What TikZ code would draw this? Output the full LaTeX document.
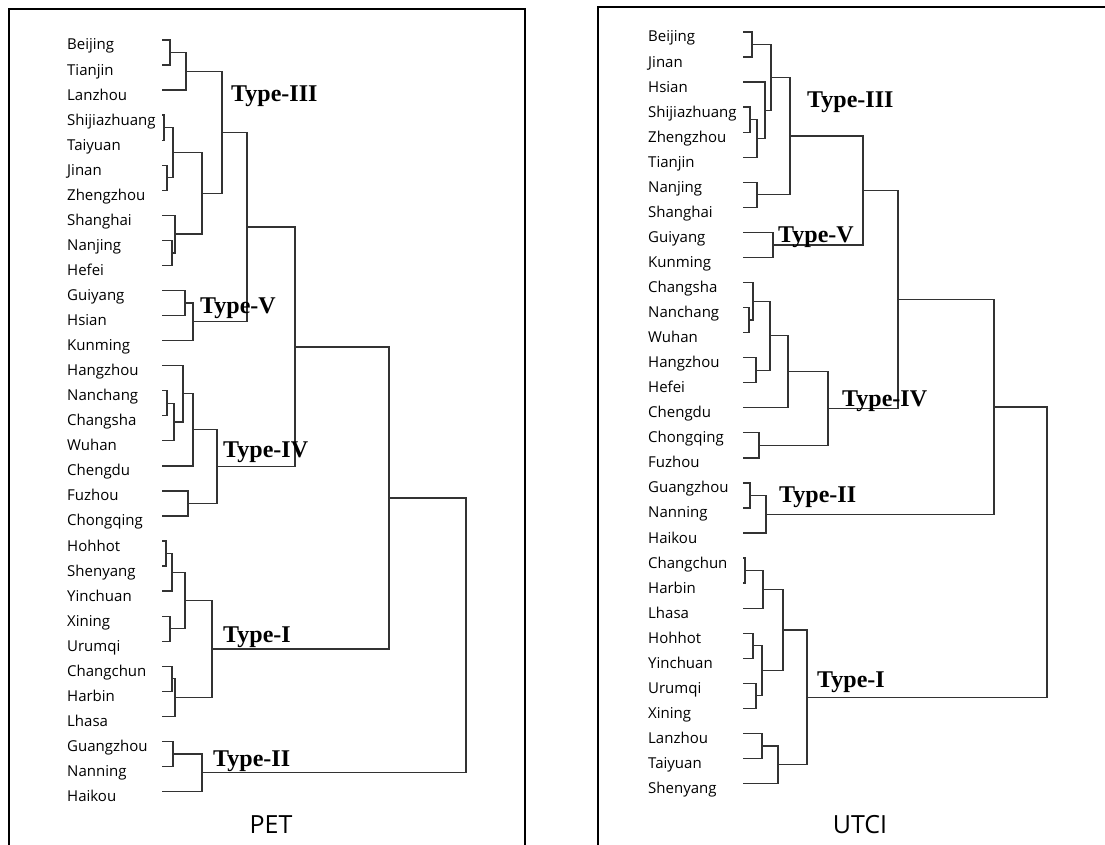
\documentclass[tikz,border=0pt]{standalone}
\usepackage{fontspec}
\newfontfamily\villefont{Open Sans}
\newfontfamily\typefont{Liberation Serif}

\tikzset{
  ville/.style={anchor=base west, inner sep=0pt, text=black,
    font=\villefont\fontsize{15}{18}\selectfont},
  groupe/.style={anchor=base west, inner sep=0pt,
    font=\typefont\bfseries\fontsize{24}{28}\selectfont},
  titre/.style={anchor=base, inner sep=0pt,
    font=\villefont\fontsize{25}{30}\selectfont},
  branche/.style={draw=black!80, line width=1.3pt},
  cadre/.style={draw=black, line width=2.4pt},
}

% relie deux branches a la hauteur x : nom, x, branche 1, branche 2
\newcommand\relie[4]{%
  \path (#3) -- (#4) coordinate[pos=.5] (#1m);
  \coordinate (#1) at (#2,0 |- #1m);
  \draw[branche] (#3) -| (#1) |- (#4);
}

\begin{document}
\begin{tikzpicture}[x=1pt, y=-1pt]
    \useasboundingbox (0,0) rectangle (1105,845);

    % Les cadres
    \draw[cadre] (9,845) -- (9,9) -- (525,9) -- (525,845);
    \draw[cadre] (598,845) -- (598,7) -- (1105,7);

    % Les villes, PET
    \foreach \name [count=\i from 0] in {Beijing,Tianjin,Lanzhou,Shijiazhuang,Taiyuan,Jinan,Zhengzhou,Shanghai,Nanjing,Hefei,Guiyang,Hsian,Kunming,Hangzhou,Nanchang,Changsha,Wuhan,Chengdu,Fuzhou,Chongqing,Hohhot,Shenyang,Yinchuan,Xining,Urumqi,Changchun,Harbin,Lhasa,Guangzhou,Nanning,Haikou} {
        \node[ville] (pt\name) at (67, {50+25.05*\i}) {\name};
        \coordinate (p\name) at (162, {40+25.05*\i});
    }

    % Les villes, UTCI
    \foreach \name [count=\i from 0] in {Beijing,Jinan,Hsian,Shijiazhuang,Zhengzhou,Tianjin,Nanjing,Shanghai,Guiyang,Kunming,Changsha,Nanchang,Wuhan,Hangzhou,Hefei,Chengdu,Chongqing,Fuzhou,Guangzhou,Nanning,Haikou,Changchun,Harbin,Lhasa,Hohhot,Yinchuan,Urumqi,Xining,Lanzhou,Taiyuan,Shenyang} {
        \node[ville] (ut\name) at (648, {42+25.05*\i}) {\name};
        \coordinate (u\name) at (743, {32+25.05*\i});
    }

    % Arbre PET
    \relie{pBT}{170}{pBeijing}{pTianjin}
    \relie{pBTL}{186}{pBT}{pLanzhou}
    \relie{pST}{164}{pShijiazhuang}{pTaiyuan}
    \relie{pJZ}{167}{pJinan}{pZhengzhou}
    \relie{pSTJZ}{173}{pST}{pJZ}
    \relie{pNH}{172}{pNanjing}{pHefei}
    \relie{pSNH}{175}{pShanghai}{pNH}
    \relie{pEst}{202}{pSTJZ}{pSNH}
    \relie{pIII}{222}{pBTL}{pEst}
    \relie{pGH}{185}{pGuiyang}{pHsian}
    \relie{pV}{193}{pGH}{pKunming}
    \relie{pIIIV}{247}{pIII}{pV}
    \relie{pNC}{167}{pNanchang}{pChangsha}
    \relie{pNCW}{174}{pNC}{pWuhan}
    \relie{pHNCW}{183}{pHangzhou}{pNCW}
    \relie{pHC}{193}{pHNCW}{pChengdu}
    \relie{pFC}{188}{pFuzhou}{pChongqing}
    \relie{pIV}{217}{pHC}{pFC}
    \relie{pA}{295}{pIIIV}{pIV}
    \relie{pHS}{166}{pHohhot}{pShenyang}
    \relie{pHSY}{172}{pHS}{pYinchuan}
    \relie{pXU}{170}{pXining}{pUrumqi}
    \relie{pNord}{185}{pHSY}{pXU}
    \relie{pCH}{172}{pChangchun}{pHarbin}
    \relie{pCHL}{175}{pCH}{pLhasa}
    \relie{pI}{212}{pNord}{pCHL}
    \relie{pB}{389}{pA}{pI}
    \relie{pGN}{173}{pGuangzhou}{pNanning}
    \relie{pII}{202}{pGN}{pHaikou}
    \relie{pRacine}{466}{pB}{pII}

    % Arbre UTCI
    \relie{uBJ}{752}{uBeijing}{uJinan}
    \relie{uSZ}{750}{uShijiazhuang}{uZhengzhou}
    \relie{uSZT}{757}{uSZ}{uTianjin}
    \relie{uHSZT}{765}{uHsian}{uSZT}
    \relie{uNord}{771}{uBJ}{uHSZT}
    \relie{uNS}{757}{uNanjing}{uShanghai}
    \relie{uIII}{790}{uNord}{uNS}
    \relie{uV}{773}{uGuiyang}{uKunming}
    \relie{uIIIV}{863}{uIII}{uV}
    \relie{uNW}{749}{uNanchang}{uWuhan}
    \relie{uCNW}{753}{uChangsha}{uNW}
    \relie{uHH}{756}{uHangzhou}{uHefei}
    \relie{uCentre}{770}{uCNW}{uHH}
    \relie{uCC}{788}{uCentre}{uChengdu}
    \relie{uCF}{759}{uChongqing}{uFuzhou}
    \relie{uIV}{828}{uCC}{uCF}
    \relie{uA}{898}{uIIIV}{uIV}
    \relie{uGN}{750}{uGuangzhou}{uNanning}
    \relie{uII}{766}{uGN}{uHaikou}
    \relie{uB}{994}{uA}{uII}
    \relie{uCH}{745}{uChangchun}{uHarbin}
    \relie{uCHL}{763}{uCH}{uLhasa}
    \relie{uHY}{753}{uHohhot}{uYinchuan}
    \relie{uUX}{756}{uUrumqi}{uXining}
    \relie{uOuest}{762}{uHY}{uUX}
    \relie{uCHLO}{783}{uCHL}{uOuest}
    \relie{uLT}{762}{uLanzhou}{uTaiyuan}
    \relie{uLTS}{778}{uLT}{uShenyang}
    \relie{uI}{807}{uCHLO}{uLTS}
    \relie{uRacine}{1047}{uB}{uI}

    % Les types
    \node[groupe] (pTypeIII) at (231,102) {Type-III};
    \node[groupe] (pTypeV) at (200,313) {Type-V};
    \node[groupe] (pTypeIV) at (223,457) {Type-IV};
    \node[groupe] (pTypeI) at (223,642) {Type-I};
    \node[groupe] (pTypeII) at (213,766) {Type-II};
    \node[groupe] (uTypeIII) at (807,108) {Type-III};
    \node[groupe] (uTypeV) at (778,242) {Type-V};
    \node[groupe] (uTypeIV) at (842,406) {Type-IV};
    \node[groupe] (uTypeII) at (779,502) {Type-II};
    \node[groupe] (uTypeI) at (817,687) {Type-I};

    % Les titres
    \node[titre] (pet) at (271,833) {PET};
    \node[titre] (utci) at (860,833) {UTCI};

\end{tikzpicture}
\end{document}
